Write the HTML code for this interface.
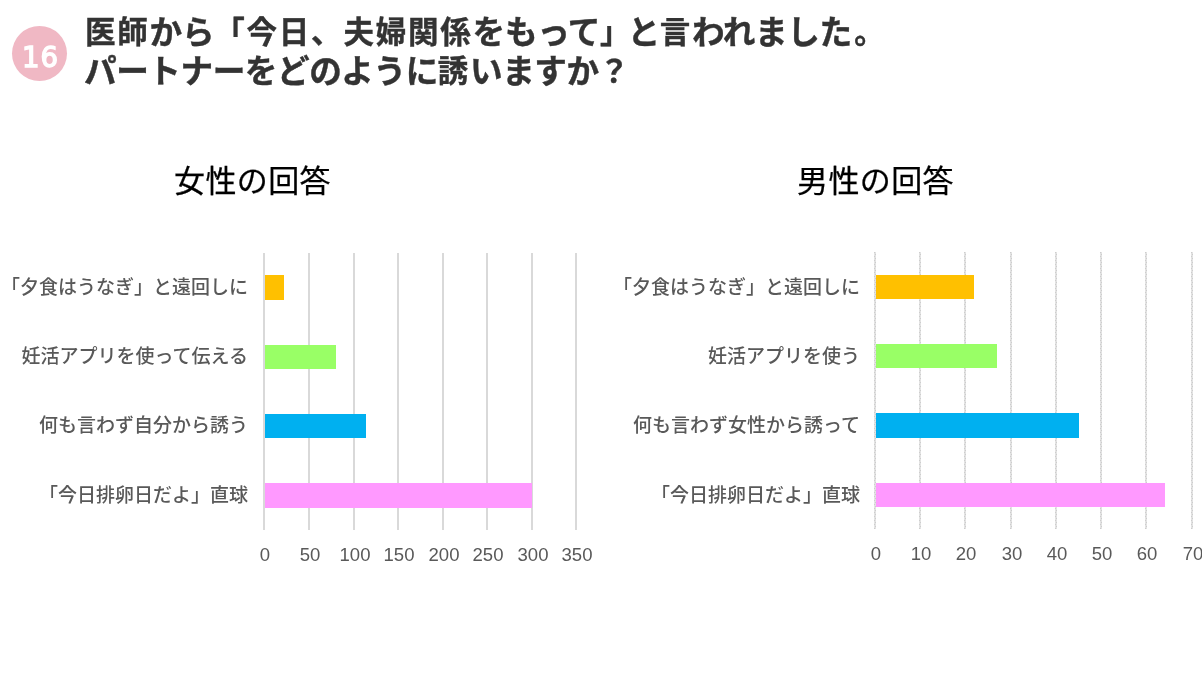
<!DOCTYPE html>
<html lang="ja">
<head>
<meta charset="utf-8">
<style>
html,body{margin:0;padding:0;background:#fff;}
body{width:1202px;height:674px;overflow:hidden;position:relative;font-family:"Liberation Sans","Noto Sans CJK JP",sans-serif;}
.abs{position:absolute;}
.t{will-change:transform;}
#badge{left:12px;top:26px;width:55px;height:55px;border-radius:50%;background:#F0B8C4;}
#badge span{position:absolute;left:1px;top:3.5px;width:55px;height:55px;line-height:55px;text-align:center;color:#fff;font-weight:400;-webkit-text-stroke:1.4px #fff;font-size:27.5px;font-family:"DejaVu Sans",sans-serif;letter-spacing:1px;will-change:transform;}
.title .k{font-size:1.07em;position:relative;top:1px;line-height:0;}
.title{left:85px;font-size:30.5px;letter-spacing:1.8px;font-weight:700;color:#333;-webkit-text-stroke:0.4px #333;white-space:nowrap;font-family:"Liberation Sans","Noto Sans CJK JP",sans-serif;line-height:1;}
.ctitle{font-size:31px;font-weight:400;-webkit-text-stroke:0.25px #000;letter-spacing:0.4px;color:#000;white-space:nowrap;font-family:"Liberation Sans","Noto Sans CJK JP",sans-serif;line-height:1;}
.grid{width:2px;background:#D9D9D9;}
.gridr{width:2px;background-color:#E0E0E0;background-image:repeating-linear-gradient(to bottom,#CDCDCD 0 1px,#E2E2E2 1px 4px),repeating-linear-gradient(to bottom,#E2E2E2 0 2px,#CDCDCD 2px 3px,#E2E2E2 3px 4px);background-size:1px 100%,1px 100%;background-position:0 0,1px 0;background-repeat:no-repeat;}
.lab{font-size:19px;color:#595959;font-weight:500;letter-spacing:0px;white-space:nowrap;text-align:right;font-family:"Liberation Sans","Noto Sans CJK JP",sans-serif;line-height:1;width:260px;}
.tick{transform:scaleX(1.06);font-size:17.5px;color:#595959;width:40px;text-align:center;font-family:"Liberation Sans",sans-serif;line-height:1;}
</style>
</head>
<body>
<div id="badge" class="abs"><span>16</span></div>
<div class="abs t title" style="top:17px;">医師<span class="k" style="letter-spacing:-0.34px">から</span>「今日、夫婦関係<span class="k" style="letter-spacing:-0.34px">をもって</span><span style="letter-spacing:-3.2px">」</span><span class="k" style="letter-spacing:-0.34px">と</span>言<span class="k" style="letter-spacing:-0.34px">われました</span><span style="margin-left:2.5px">。</span></div>
<div class="abs t title" style="top:56px;left:84px;letter-spacing:1.68px;"><span class="k" style="letter-spacing:-0.46px">パートナーをどのように</span>誘<span class="k" style="letter-spacing:-0.46px">いますか</span>？</div>
<div class="abs t ctitle" style="left:174px;top:165.5px;">女性の回答</div>
<div class="abs t ctitle" style="left:797px;top:165.5px;">男性の回答</div>

<div class="abs grid" style="left:263px;top:253px;height:277px;"></div>
<div class="abs grid" style="left:308px;top:253px;height:277px;"></div>
<div class="abs grid" style="left:353px;top:253px;height:277px;"></div>
<div class="abs grid" style="left:397px;top:253px;height:277px;"></div>
<div class="abs grid" style="left:442px;top:253px;height:277px;"></div>
<div class="abs grid" style="left:486px;top:253px;height:277px;"></div>
<div class="abs grid" style="left:531px;top:253px;height:277px;"></div>
<div class="abs grid" style="left:575px;top:253px;height:277px;"></div>
<div class="abs" style="left:265px;top:275px;width:19px;height:25px;background:#FFC000;"></div>
<div class="abs" style="left:265px;top:345px;width:71px;height:24px;background:#99FF66;"></div>
<div class="abs" style="left:265px;top:414px;width:101px;height:24px;background:#00B0F0;"></div>
<div class="abs" style="left:265px;top:483px;width:267px;height:25px;background:#FF99FF;"></div>
<div class="abs t lab" style="left:-12px;top:278.3px;">「夕食はうなぎ」と遠回しに</div>
<div class="abs t lab" style="left:-12px;top:347.3px;">妊活アプリを使って伝える</div>
<div class="abs t lab" style="left:-12px;top:416.3px;">何も言わず自分から誘う</div>
<div class="abs t lab" style="left:-12px;top:486.3px;">「今日排卵日だよ」直球</div>
<div class="abs t tick" style="left:244.70px;top:546.6px;">0</div>
<div class="abs t tick" style="left:289.70px;top:546.6px;">50</div>
<div class="abs t tick" style="left:334.70px;top:546.6px;">100</div>
<div class="abs t tick" style="left:378.70px;top:546.6px;">150</div>
<div class="abs t tick" style="left:423.70px;top:546.6px;">200</div>
<div class="abs t tick" style="left:467.70px;top:546.6px;">250</div>
<div class="abs t tick" style="left:512.70px;top:546.6px;">300</div>
<div class="abs t tick" style="left:556.70px;top:546.6px;">350</div>
<div class="abs gridr" style="left:874px;top:252px;height:277px;"></div>
<div class="abs gridr" style="left:919px;top:252px;height:277px;"></div>
<div class="abs gridr" style="left:964px;top:252px;height:277px;"></div>
<div class="abs gridr" style="left:1010px;top:252px;height:277px;"></div>
<div class="abs gridr" style="left:1055px;top:252px;height:277px;"></div>
<div class="abs gridr" style="left:1100px;top:252px;height:277px;"></div>
<div class="abs gridr" style="left:1145px;top:252px;height:277px;"></div>
<div class="abs gridr" style="left:1191px;top:252px;height:277px;"></div>
<div class="abs" style="left:876px;top:275px;width:98px;height:24px;background:#FFC000;"></div>
<div class="abs" style="left:876px;top:344px;width:121px;height:24px;background:#99FF66;"></div>
<div class="abs" style="left:876px;top:413px;width:203px;height:25px;background:#00B0F0;"></div>
<div class="abs" style="left:876px;top:483px;width:289px;height:24px;background:#FF99FF;"></div>
<div class="abs t lab" style="left:599.5px;top:278.3px;">「夕食はうなぎ」と遠回しに</div>
<div class="abs t lab" style="left:599.5px;top:347.3px;">妊活アプリを使う</div>
<div class="abs t lab" style="left:599.5px;top:416.3px;">何も言わず女性から誘って</div>
<div class="abs t lab" style="left:599.5px;top:486.3px;">「今日排卵日だよ」直球</div>
<div class="abs t tick" style="left:855.70px;top:545.6px;">0</div>
<div class="abs t tick" style="left:900.70px;top:545.6px;">10</div>
<div class="abs t tick" style="left:945.70px;top:545.6px;">20</div>
<div class="abs t tick" style="left:991.70px;top:545.6px;">30</div>
<div class="abs t tick" style="left:1036.70px;top:545.6px;">40</div>
<div class="abs t tick" style="left:1081.70px;top:545.6px;">50</div>
<div class="abs t tick" style="left:1126.70px;top:545.6px;">60</div>
<div class="abs t tick" style="left:1172.70px;top:545.6px;">70</div>
</body>
</html>
